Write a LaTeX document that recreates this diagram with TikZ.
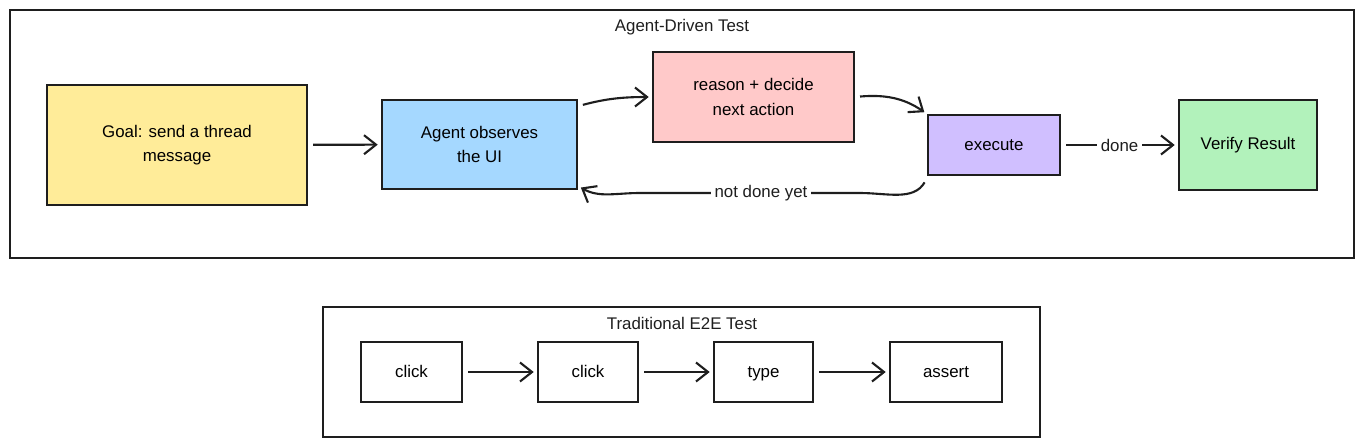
\documentclass[tikz,border=0pt]{standalone}
\usepackage{fontspec}
\setmainfont{Liberation Sans}
\usepackage{tikz}
\usepackage{xcolor}
\usetikzlibrary{arrows.meta, positioning, calc}
\definecolor{ink}{HTML}{1E1E1E}
\definecolor{goalyellow}{HTML}{FFEC99}
\definecolor{observeblue}{HTML}{A5D8FF}
\definecolor{reasonred}{HTML}{FFC9C9}
\definecolor{execviolet}{HTML}{D0BFFF}
\definecolor{verifygreen}{HTML}{B2F2BB}

\begin{document}
\begin{tikzpicture}[x=0.02cm, y=-0.02cm,
            box/.style={rectangle, draw=ink, line width=0.9pt, align=center, inner sep=2pt, font=\fontsize{9.6}{14}\selectfont},
            stepbox/.style={box, fill=white, minimum height=1.2cm, text height=1.6ex, text depth=0.4ex},
            flow/.style={draw=ink, line width=1.2pt, -{Straight Barb[length=2.4mm, width=3.8mm, line width=1.2pt]}, shorten <=3pt, shorten >=2pt},
            frame/.style={draw=ink, line width=0.9pt},
            caption/.style={font=\fontsize{9.6}{12}\selectfont, text=ink},
            tag/.style={fill=white, inner sep=2pt, font=\fontsize{9.6}{12}\selectfont, text=ink}]
            \useasboundingbox (0,0) rectangle (1364,447);
            % agent-driven loop
            \draw[frame] (10,10) rectangle (1354,258);
            \node[caption] (toptitle) at (682,27) {Agent-Driven Test};
            \node[box, fill=goalyellow, minimum width=5.2cm, minimum height=2.4cm] (goal) at (177,145) {Goal: send a thread\\message};
            \node[box, fill=observeblue, minimum width=3.9cm, minimum height=1.78cm] (observe) at (479.5,144.5) {Agent observes\\the UI};
            \node[box, fill=reasonred, minimum width=4.02cm, minimum height=1.8cm] (reason) at (753.5,97) {reason + decide\\next action};
            \node[box, fill=execviolet, minimum width=2.64cm, minimum height=1.2cm] (execute) at (994,145) {execute};
            \node[box, fill=verifygreen, minimum width=2.76cm, minimum height=1.8cm] (verify) at (1248,145) {Verify Result};
            \draw[flow] (goal) -- (observe);
            \draw[flow] ($(observe.north east)+(0,7)$) to[out=15, in=180] (reason.west);
            \draw[flow] (reason.east) to[out=5, in=145] (execute.north west);
            \draw[flow] (execute) -- node[tag] (donetag) {done} (verify);
            \draw[flow] ($(execute.south west)+(0,2)$) to[out=-120, in=0] (860,193) -- (640,193)
                node[tag, pos=0.45] (notdonetag) {not done yet}
                to[out=180, in=-30] ($(observe.south east)+(0,-4)$);
            % traditional chain
            \draw[frame] (323,307) rectangle (1040,437);
            \node[caption] (bottomtitle) at (682,323) {Traditional E2E Test};
            \node[stepbox, minimum width=2.02cm] (click1) at (411.5,372) {click};
            \node[stepbox, minimum width=2.0cm] (click2) at (588,372) {click};
            \node[stepbox, minimum width=1.98cm] (type) at (763.5,372) {type};
            \node[stepbox, minimum width=2.24cm] (assert) at (946,372) {assert};
            \draw[flow] (click1) -- (click2);
            \draw[flow] (click2) -- (type);
            \draw[flow] (type) -- (assert);
        \end{tikzpicture}
\end{document}
